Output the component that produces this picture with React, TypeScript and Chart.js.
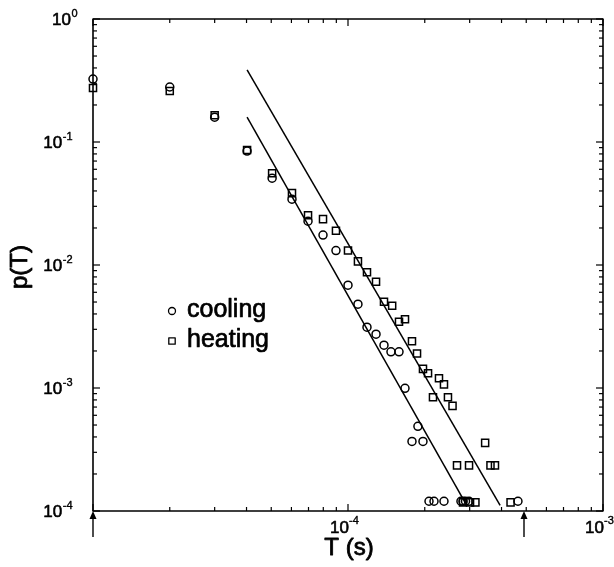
import React, { useEffect, useRef } from "react";
import { Chart, registerables } from "chart.js";

Chart.register(...registerables);

// ---- data (T in seconds, p(T)) ----
const coolingT = [
  1.0e-5, 2.0e-5, 3.0e-5, 4.02e-5, 5.04e-5, 6.03e-5, 6.97e-5, 7.98e-5, 8.97e-5,
  1.0e-4, 1.094e-4, 1.187e-4, 1.288e-4, 1.384e-4, 1.474e-4, 1.585e-4, 1.673e-4,
  1.782e-4, 1.88e-4, 1.968e-4,
  2.078e-4, 2.174e-4, 2.379e-4, 2.773e-4, 2.825e-4, 2.89e-4, 2.983e-4, 4.64e-4,
];
const coolingP = [
  0.325, 0.28, 0.159, 0.0843, 0.0508, 0.0343, 0.0227, 0.0175, 0.0131,
  0.00685, 0.0048, 0.00312, 0.00274, 0.00223, 0.00197, 0.00197, 0.000994,
  0.000368, 0.000488, 0.000368,
  1.2e-4, 1.2e-4, 1.2e-4, 1.2e-4, 1.2e-4, 1.2e-4, 1.2e-4, 1.2e-4,
];
const heatingT = [
  1.0e-5, 2.0e-5, 3.0e-5, 4.02e-5, 5.04e-5, 6.03e-5, 6.97e-5, 7.98e-5, 8.97e-5,
  1.0e-4, 1.094e-4, 1.187e-4, 1.288e-4, 1.384e-4, 1.49e-4, 1.585e-4, 1.673e-4,
  1.782e-4, 1.865e-4, 1.968e-4, 2.06e-4, 2.154e-4, 2.274e-4, 2.379e-4, 2.466e-4,
  2.57e-4, 3.45e-4, 2.676e-4, 2.983e-4, 3.62e-4, 3.77e-4,
  2.825e-4, 3.01e-4, 3.16e-4, 4.34e-4,
];
const heatingP = [
  0.275, 0.26, 0.165, 0.086, 0.0558, 0.0384, 0.0254, 0.0236, 0.019,
  0.0131, 0.0107, 0.00874, 0.00731, 0.00503, 0.00467, 0.00346, 0.00362,
  0.0024, 0.00191, 0.00143, 0.00132, 0.00084, 0.0012, 0.00107, 0.00084,
  0.000716, 0.000358, 0.000235, 0.000235, 0.000235, 0.000235,
  1.175e-4, 1.175e-4, 1.175e-4, 1.175e-4,
];
// power-law fit lines (endpoints)
const fitCoolingT = [4.02e-5, 2.88e-4];
const fitCoolingP = [0.159, 1.17e-4];
const fitHeatingT = [4.02e-5, 3.95e-4];
const fitHeatingP = [0.385, 1.11e-4];

// axes
const xMin = 1e-5;
const xMax = 1e-3;
const yMin = 1e-4;
const yMax = 1;
const xDecades = [-5, -4, -3];
const yDecades = [-4, -3, -2, -1, 0];
const xLabelExps = [-4, -3];
const yLabelExps = [0, -1, -2, -3, -4];
const arrowT = [1e-5, 4.9e-4];
const seriesLabels = ["cooling", "heating"];
const xTitle = "T (s)";
const yTitle = "p(T)";

const FONT = '"Liberation Sans", Arial, Helvetica, sans-serif';

const framePlugin = {
  id: "frame",
  afterDraw(chart: any) {
    const { ctx, chartArea: a, scales } = chart;
    const xs = scales.x;
    const ys = scales.y;
    ctx.save();
    ctx.strokeStyle = "#000";
    ctx.fillStyle = "#000";
    ctx.lineJoin = "round";
    const seg = (x1: number, y1: number, x2: number, y2: number) => {
      ctx.beginPath();
      ctx.moveTo(x1, y1);
      ctx.lineTo(x2, y2);
      ctx.stroke();
    };
    const text = (s: string, x: number, y: number, w: number) => {
      ctx.fillText(s, x, y);
      ctx.lineWidth = w;
      ctx.strokeText(s, x, y);
    };
    // ticks
    ctx.lineWidth = 1.2;
    xDecades.forEach((e) => {
      for (let m = 1; m <= 9; m++) {
        const v = m * Math.pow(10, e);
        if (v > xMax * 1.0001) break;
        const px = xs.getPixelForValue(v);
        const len = m === 1 ? 7 : 4;
        seg(px, a.bottom, px, a.bottom - len);
        seg(px, a.top, px, a.top + len);
      }
    });
    yDecades.forEach((e) => {
      for (let m = 1; m <= 9; m++) {
        const v = m * Math.pow(10, e);
        if (v > yMax * 1.0001) break;
        const py = ys.getPixelForValue(v);
        const len = m === 1 ? 7 : 4;
        seg(a.left, py, a.left + len, py);
        seg(a.right, py, a.right - len, py);
      }
    });
    // frame
    ctx.lineWidth = 1.6;
    ctx.strokeRect(a.left, a.top, a.right - a.left, a.bottom - a.top);

    // y tick labels
    yLabelExps.forEach((e) => {
      const py = ys.getPixelForValue(Math.pow(10, e));
      const exp = String(e);
      ctx.font = `17px ${FONT}`;
      const baseW = ctx.measureText("10").width;
      ctx.font = `11px ${FONT}`;
      const expW = ctx.measureText(exp).width;
      const right = e === 0 ? a.left - 16 : a.left - 21;
      const x0 = right - expW - baseW;
      ctx.font = `17px ${FONT}`;
      ctx.textAlign = "left";
      ctx.textBaseline = "alphabetic";
      text("10", x0, py + 6, 0.6);
      ctx.font = `11px ${FONT}`;
      text(exp, x0 + baseW + 0.5, py - 2, 0.4);
    });
    // x tick labels
    xLabelExps.forEach((e) => {
      const px = xs.getPixelForValue(Math.pow(10, e));
      ctx.font = `17px ${FONT}`;
      ctx.textAlign = "right";
      ctx.textBaseline = "alphabetic";
      text("10", px + 1, a.bottom + 22, 0.6);
      ctx.font = `11px ${FONT}`;
      ctx.textAlign = "left";
      text(String(e), px + 1, a.bottom + 13, 0.4);
    });

    // axis titles
    ctx.font = `24px ${FONT}`;
    ctx.textAlign = "center";
    ctx.textBaseline = "middle";
    text(xTitle, xs.getPixelForValue(1e-4) + 1, a.bottom + 37, 0.8);
    ctx.save();
    ctx.translate(a.left - 73, (a.top + a.bottom) / 2 + 2);
    ctx.rotate(-Math.PI / 2);
    text(yTitle, 0, 0, 0.8);
    ctx.restore();

    // arrows below axis
    ctx.lineWidth = 1.4;
    arrowT.forEach((t) => {
      const px = xs.getPixelForValue(t);
      seg(px, a.bottom + 26, px, a.bottom + 6);
      ctx.beginPath();
      ctx.moveTo(px, a.bottom);
      ctx.lineTo(px - 3.5, a.bottom + 8);
      ctx.lineTo(px + 3.5, a.bottom + 8);
      ctx.closePath();
      ctx.fill();
    });

    // legend
    const lx = a.left + 79;
    const ly1 = a.top + 292;
    const ly2 = a.top + 322;
    ctx.lineWidth = 1.3;
    ctx.beginPath();
    ctx.arc(lx, ly1, 3.5, 0, Math.PI * 2);
    ctx.stroke();
    ctx.strokeRect(lx - 3.2, ly2 - 3.2, 6.4, 6.4);
    ctx.font = `25px ${FONT}`;
    ctx.textAlign = "left";
    ctx.textBaseline = "alphabetic";
    text(seriesLabels[0], lx + 15, ly1 + 6, 0.7);
    text(seriesLabels[1], lx + 15, ly2 + 6, 0.7);
    ctx.restore();
  },
};

export default function App() {
  const ref = useRef<HTMLCanvasElement | null>(null);
  useEffect(() => {
    if (!ref.current) return;
    const toPts = (xs: number[], ys: number[]) => xs.map((x, i) => ({ x, y: ys[i] }));
    const chart = new Chart(ref.current, {
      type: "scatter",
      data: {
        datasets: [
          {
            label: seriesLabels[0],
            data: toPts(coolingT, coolingP),
            pointStyle: "circle",
            pointRadius: 4,
            borderColor: "#000",
            backgroundColor: "rgba(255,255,255,0)",
            borderWidth: 1.5,
            clip: false,
          },
          {
            label: seriesLabels[1],
            data: toPts(heatingT, heatingP),
            pointStyle: "rect",
            pointRadius: 5,
            borderColor: "#000",
            backgroundColor: "rgba(255,255,255,0)",
            borderWidth: 1.5,
            clip: false,
          },
          {
            type: "line",
            label: "fit cooling",
            data: toPts(fitCoolingT, fitCoolingP),
            showLine: true,
            pointRadius: 0,
            borderColor: "#000",
            borderWidth: 1.5,
            fill: false,
          },
          {
            type: "line",
            label: "fit heating",
            data: toPts(fitHeatingT, fitHeatingP),
            showLine: true,
            pointRadius: 0,
            borderColor: "#000",
            borderWidth: 1.5,
            fill: false,
          },
        ] as any,
      },
      options: {
        responsive: false,
        animation: false,
        devicePixelRatio: 1,
        layout: { padding: { left: 93, right: 11, top: 19, bottom: 56 } },
        scales: {
          x: { type: "logarithmic", min: xMin, max: xMax, display: false },
          y: { type: "logarithmic", min: yMin, max: yMax, display: false },
        },
        plugins: {
          legend: { display: false },
          tooltip: { enabled: false },
        },
      } as any,
      plugins: [framePlugin],
    });
    return () => chart.destroy();
  }, []);
  return (
    <canvas
      ref={ref}
      width={614}
      height={567}
      style={{ position: "absolute", left: 0, top: 0, display: "block", background: "#fff" }}
    />
  );
}
